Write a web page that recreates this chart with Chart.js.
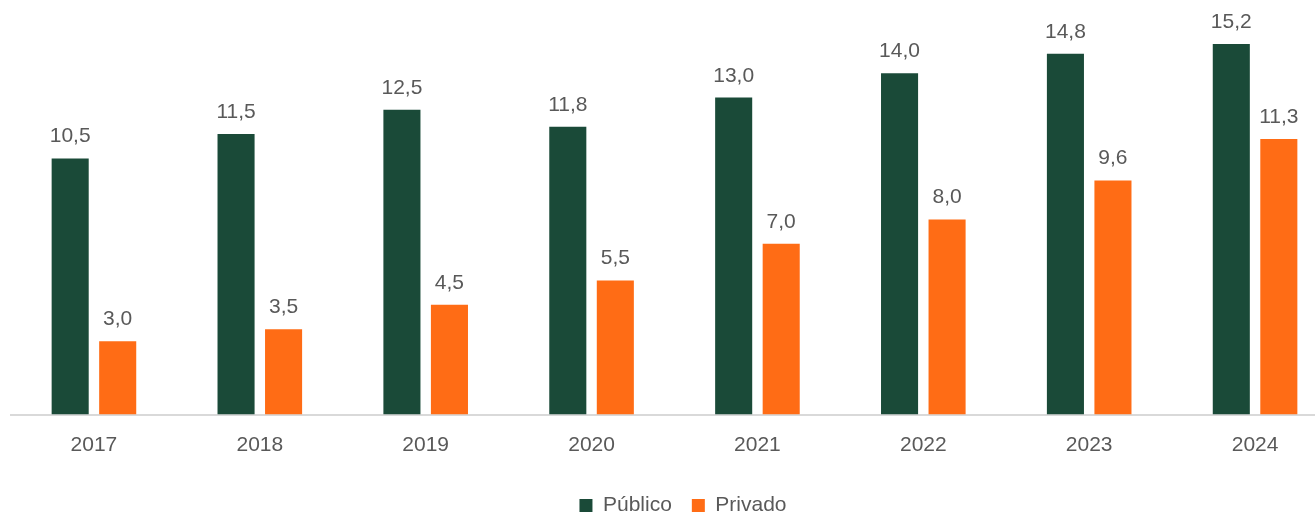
<!DOCTYPE html>
<html>
<head>
<meta charset="utf-8">
<script src="https://cdn.jsdelivr.net/npm/chart.js@4.4.1/dist/chart.umd.min.js"></script>
<style>
  html, body { margin: 0; padding: 0; overflow: hidden; background: #ffffff; }
  #wrap { position: relative; width: 1355px; height: 526px; }
</style>
</head>
<body>
<div id="wrap"><canvas id="c"></canvas></div>
<script>
const categories = ['2017', '2018', '2019', '2020', '2021', '2022', '2023', '2024'];
const publico = [10.5, 11.5, 12.5, 11.8, 13.0, 14.0, 14.8, 15.2];
const privado = [3.0, 3.5, 4.5, 5.5, 7.0, 8.0, 9.6, 11.3];
const seriesNames = ['Público', 'Privado'];

const FONT = "'Liberation Sans Narrow', 'Arial Narrow', 'Liberation Sans', Arial, sans-serif";
const TEXT = '#595959';
const FS = 21;

const valueLabels = {
  id: 'valueLabels',
  afterDatasetsDraw(chart) {
    const ctx = chart.ctx;
    ctx.save();
    ctx.font = FS + 'px ' + FONT;
    ctx.fillStyle = TEXT;
    ctx.textAlign = 'center';
    ctx.textBaseline = 'alphabetic';
    chart.data.datasets.forEach((ds, di) => {
      const meta = chart.getDatasetMeta(di);
      meta.data.forEach((bar, i) => {
        const txt = ds.data[i].toFixed(1).replace('.', ',');
        ctx.fillText(txt, bar.x, bar.y - 16);
      });
    });
    ctx.restore();
  }
};

new Chart(document.getElementById('c'), {
  type: 'bar',
  data: {
    labels: categories,
    datasets: [
      { label: seriesNames[0], data: publico, backgroundColor: '#1a4a38' },
      { label: seriesNames[1], data: privado, backgroundColor: '#ff6c15' }
    ]
  },
  options: {
    responsive: true,
    maintainAspectRatio: false,
    animation: false,
    events: [],
    layout: { padding: { left: 11, right: 0, top: 0, bottom: 0 } },
    datasets: { bar: { categoryPercentage: 0.573, barPercentage: 0.78 } },
    scales: {
      x: {
        grid: { display: false, drawTicks: false },
        border: { display: true, color: '#d9d9d9', width: 2 },
        ticks: { color: TEXT, font: { family: FONT, size: FS }, padding: 18 },
        afterFit(scale) { scale.height = 60.5; }
      },
      y: {
        position: 'right',
        min: 0, max: 17,
        grid: { display: false, drawTicks: false },
        border: { display: false },
        ticks: { display: false },
        afterFit(scale) { scale.width = 17; }
      }
    },
    plugins: {
      legend: {
        position: 'bottom',
        labels: {
          boxWidth: 13, boxHeight: 13, padding: 20,
          color: TEXT, font: { family: FONT, size: FS }
        }
      },
      tooltip: { enabled: false }
    }
  },
  plugins: [valueLabels]
});
</script>
</body>
</html>
